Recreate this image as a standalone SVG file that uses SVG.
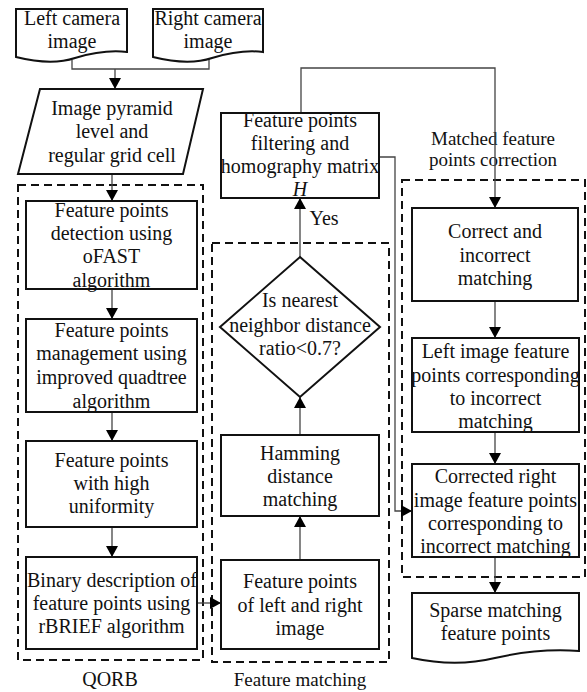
<svg xmlns="http://www.w3.org/2000/svg" width="587" height="692" viewBox="0 0 587 692" font-family="'Liberation Serif','Times New Roman',serif">
<defs>
<marker id="ah" markerUnits="userSpaceOnUse" markerWidth="12" markerHeight="12" viewBox="0 0 12 12" refX="11" refY="6" orient="auto">
<path d="M0,0 L11,6 L0,12 Z" fill="#000"/>
</marker>
</defs>
<style>
text{font-family:"Liberation Serif","Times New Roman",serif;font-size:20px;fill:#111;text-anchor:middle}
.box{fill:#fff;stroke:#111;stroke-width:2}
.dash{fill:none;stroke:#111;stroke-width:2;stroke-dasharray:8 5}
.con{fill:none;stroke:#444;stroke-width:1.3}
.arr{marker-end:url(#ah)}
.sm{font-size:19px}
</style>
<rect width="587" height="692" fill="#fff"/>
<g id="groups">
<rect id="qorb-group" class="dash" x="18" y="185" width="185" height="475"/>
<rect id="fm-group" class="dash" x="212" y="243" width="177" height="419"/>
<rect id="mfpc-group" class="dash" x="402" y="180" width="183" height="397"/>
<text x="110" y="686">QORB</text>
<text class="sm" x="300" y="686">Feature matching</text>
<text class="sm" x="493" y="145">Matched feature</text>
<text class="sm" x="493" y="166">points correction</text>
</g>
<g id="connectors">
<polyline class="con" points="72,60 72,69 209,69 209,56"/>
<line class="con arr" x1="115" y1="69" x2="115" y2="89"/>
<line class="con arr" x1="112" y1="174" x2="112" y2="201"/>
<line class="con arr" x1="112" y1="289" x2="112" y2="319"/>
<line class="con arr" x1="112" y1="412" x2="112" y2="441"/>
<line class="con arr" x1="112" y1="527" x2="112" y2="557"/>
<line class="con arr" x1="197" y1="603" x2="221" y2="603"/>
<line class="con arr" x1="300" y1="560" x2="300" y2="516"/>
<line class="con arr" x1="300" y1="435" x2="300" y2="397"/>
<line class="con arr" x1="300" y1="257" x2="300" y2="198"/>
<polyline class="con arr" points="301,113 301,68 495,68 495,208"/>
<polyline class="con arr" points="379,157 395,157 395,511 412,511"/>
<line class="con arr" x1="495" y1="301" x2="495" y2="338"/>
<line class="con arr" x1="495" y1="432" x2="495" y2="464"/>
<line class="con arr" x1="495" y1="557" x2="495" y2="593"/>
</g>
<g id="left-camera">
<path class="box" d="M16,9 H127 V52 C110,50 95,52 75,58 C60,63 40,63 16,57 Z"/>
<text x="72" y="25">Left camera</text>
<text x="72" y="48">image</text>
</g>
<g id="right-camera">
<path class="box" d="M153,9 H263 V52 C247,50 232,52 212,58 C197,63 177,63 153,57 Z"/>
<text x="208" y="25">Right camera</text>
<text x="208" y="48">image</text>
</g>
<g id="pyramid">
<polygon class="box" points="40,89 203,89 183,174 18,174"/>
<text x="112" y="115">Image pyramid</text>
<text x="112" y="138">level and</text>
<text x="112" y="162">regular grid cell</text>
</g>
<g id="ofast">
<rect class="box" x="26" y="201" width="171" height="88"/>
<text x="111.5" y="217">Feature points</text>
<text x="111.5" y="240">detection using</text>
<text x="111.5" y="263">oFAST</text>
<text x="111.5" y="287">algorithm</text>
</g>
<g id="quadtree">
<rect class="box" x="26" y="319" width="171" height="93"/>
<text x="111.5" y="337">Feature points</text>
<text x="111.5" y="360">management  using</text>
<text x="111.5" y="384">improved quadtree</text>
<text x="111.5" y="408">algorithm</text>
</g>
<g id="uniformity">
<rect class="box" x="26" y="441" width="171" height="86"/>
<text x="111.5" y="467">Feature points</text>
<text x="111.5" y="490">with high</text>
<text x="111.5" y="513">uniformity</text>
</g>
<g id="rbrief">
<rect class="box" x="26" y="557" width="171" height="92"/>
<text x="112" y="587">Binary  description of</text>
<text x="111.5" y="610">feature points using</text>
<text x="111.5" y="633">rBRIEF algorithm</text>
</g>
<g id="lr-points">
<rect class="box" x="221" y="560" width="158" height="89"/>
<text x="300" y="588">Feature points</text>
<text x="300" y="612">of left and right</text>
<text x="300" y="635">image</text>
</g>
<g id="hamming">
<rect class="box" x="221" y="435" width="158" height="81"/>
<text x="300" y="460">Hamming</text>
<text x="300" y="483">distance</text>
<text x="300" y="506">matching</text>
</g>
<g id="ratio">
<polygon class="box" points="300,257 380,327 300,397 220,327"/>
<text x="300" y="307">Is nearest</text>
<text x="300" y="332">neighbor distance</text>
<text x="300" y="355">ratio&lt;0.7?</text>
</g>
<g id="homography">
<rect class="box" x="221" y="113" width="158" height="85"/>
<text x="300" y="127">Feature points</text>
<text x="300" y="150">filtering  and</text>
<text x="300" y="173">homography matrix</text>
<text x="300" y="196" font-style="italic">H</text>
</g>
<text x="324" y="225">Yes</text>
<g id="correct">
<rect class="box" x="412" y="208" width="166" height="93"/>
<text x="495" y="238">Correct and</text>
<text x="495" y="262">incorrect</text>
<text x="495" y="285">matching</text>
</g>
<g id="left-incorrect">
<rect class="box" x="412" y="338" width="167" height="94"/>
<text x="495.5" y="358">Left image  feature</text>
<text x="495.5" y="382">points corresponding</text>
<text x="495.5" y="405">to incorrect</text>
<text x="495.5" y="428">matching</text>
</g>
<g id="corrected-right">
<rect class="box" x="412" y="464" width="167" height="93"/>
<text x="495.5" y="483">Corrected right</text>
<text x="495.5" y="507">image  feature points</text>
<text x="495.5" y="530">corresponding to</text>
<text x="495.5" y="553">incorrect matching</text>
</g>
<g id="sparse">
<path class="box" d="M412,593 H579 V651 C550,649 525,651 495,658 C470,664 440,664 412,658 Z"/>
<text x="495.5" y="617">Sparse matching</text>
<text x="495.5" y="640">feature  points</text>
</g>
</svg>
